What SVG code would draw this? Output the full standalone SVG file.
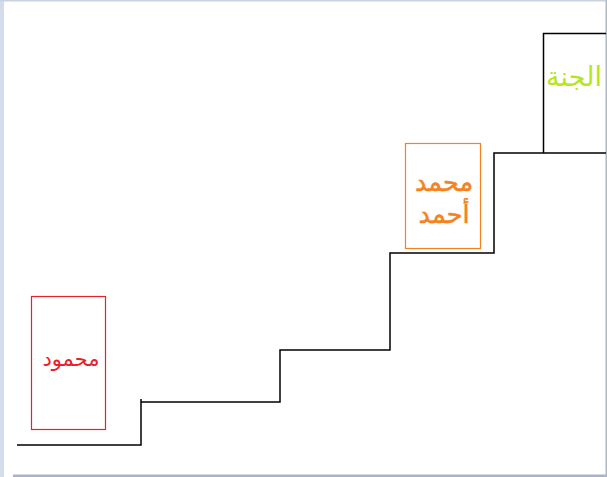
<svg xmlns="http://www.w3.org/2000/svg" width="607" height="477" viewBox="0 0 607 477">
<style>
.stair{fill:none;stroke:#000;stroke-width:1.5}
.lbl{font-family:"DejaVu Sans",sans-serif;text-anchor:middle}
</style>
<rect x="0" y="0" width="607" height="477" fill="#fff"/>
<g id="frame">
<rect x="0" y="0" width="4" height="477" fill="#d2dceb"/>
<rect x="0" y="0" width="607" height="1.5" fill="#c8d2e0"/>
<rect x="13" y="474.5" width="594" height="2.5" fill="#aab4c6"/>
<rect x="605.5" y="0" width="1.5" height="477" fill="#b0b8c6"/>
</g>
<g id="connectors">
<path class="stair" d="M17 445H141V399M141 402H280V350H390V253H494V153H606"/>
<path class="stair" d="M543.5 153V33.5H606"/>
</g>
<g id="node-mahmoud">
<rect x="31.5" y="296.5" width="74" height="133" fill="none" stroke="#e8202a" stroke-width="1.2"/>
<text class="lbl" x="71" y="366" font-size="21" fill="#e8202a">محمود</text>
</g>
<g id="node-mohamed-ahmed">
<rect x="405.5" y="143.5" width="75" height="105" fill="none" stroke="#f58220" stroke-width="1.2"/>
<text class="lbl" x="444" y="191" font-size="25.5" fill="#f58220" stroke="#f58220" stroke-width="0.5">محمد</text>
<text class="lbl" x="444" y="223" font-size="25.5" fill="#f58220" stroke="#f58220" stroke-width="0.5">أحمد</text>
</g>
<g id="node-jannah">
<text class="lbl" x="574" y="86" font-size="27" fill="#b5e61d">الجنة</text>
</g>
</svg>
